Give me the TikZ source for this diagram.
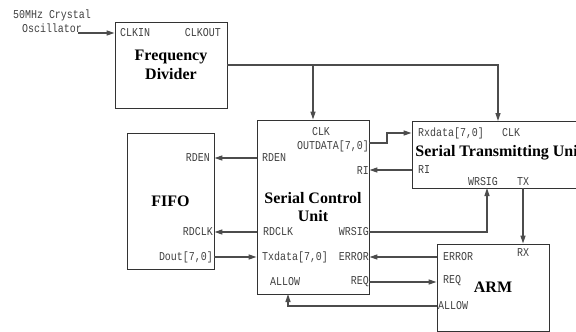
\documentclass[tikz,border=0pt]{standalone}
\usepackage{fontspec}
\setmainfont{Liberation Serif}
\newfontfamily\portfont[FakeStretch=0.83]{Liberation Mono}
\usetikzlibrary{arrows.meta}

\begin{document}
\begin{tikzpicture}[x=1pt,y=-1pt,
  block/.style={draw=black!80,line width=0.9pt,inner sep=0pt,align=center,font=\fontsize{16}{18.5}\selectfont\bfseries},
  port/.style={inner sep=0pt,text=black!75,font=\portfont\fontsize{12}{14}\selectfont},
  arr/.style={draw=black!70,line width=1.2pt,-{Triangle[length=8pt,width=5pt]}}]
\useasboundingbox (0,0) rectangle (576,332);

% blocks
\node[block,minimum width=112,minimum height=86] (fd) at (171,65) {Frequency\\Divider};
\node[block,minimum width=112,minimum height=174] (scu) at (313,207) {Serial Control\\Unit};
\node[block,minimum width=180,minimum height=67] (stu) at (502,154.5) {};
\node[block,draw=none,anchor=west] (stutitle) at (415,153) {Serial Transmitting Unit};
\node[block,minimum width=87,minimum height=136] (fifo) at (170.5,201) {FIFO};
\node[block,minimum width=112,minimum height=87] (arm) at (493,287.5) {ARM};

% ports
\node[port,align=center] (osctext) at (52,21) {50MHz Crystal\\Oscillator};
\node[port,anchor=west] (fdclkin) at (120,33) {CLKIN};
\node[port,anchor=east] (fdclkout) at (221,33) {CLKOUT};

\node[port] (scuclk) at (321,132) {CLK};
\node[port,anchor=east] (scuout) at (369,146) {OUTDATA[7,0]};
\node[port,anchor=east] (scuri) at (369,171) {RI};
\node[port,anchor=west] (scurden) at (262,158) {RDEN};
\node[port,anchor=west] (scurdclk) at (263,232) {RDCLK};
\node[port,anchor=west] (scutx) at (262,257) {Txdata[7,0]};
\node[port,anchor=west] (scuallow) at (270,282) {ALLOW};
\node[port,anchor=east] (scuwrsig) at (369,232) {WRSIG};
\node[port,anchor=east] (scuerror) at (369,257) {ERROR};
\node[port,anchor=east] (scureq) at (369,282) {REQ};

\node[port,anchor=east] (fiforden) at (210,158) {RDEN};
\node[port,anchor=east] (fifordclk) at (213,232) {RDCLK};
\node[port,anchor=east] (fifodout) at (213,257) {Dout[7,0]};

\node[port,anchor=west] (sturx) at (418,133) {Rxdata[7,0]};
\node[port,anchor=west] (stuclk) at (502,133) {CLK};
\node[port,anchor=west] (sturi) at (418,170) {RI};
\node[port] (stuwrsig) at (483,182) {WRSIG};
\node[port] (stutx) at (523,182) {TX};

\node[port,anchor=west] (armerror) at (443,257) {ERROR};
\node[port,anchor=west] (armreq) at (443,281) {REQ};
\node[port,anchor=west] (armallow) at (438,306) {ALLOW};
\node[port] (armrx) at (523,253) {RX};

\coordinate (osc) at (78,33);
\coordinate (outpin) at (369,143);
\coordinate (stuin) at (498,121);
\coordinate (wrin) at (487,188);
\coordinate (allowin) at (288,294);

% connectors
\draw[arr] (osc) -- (osc -| fd.west);
\draw[arr] (fd.east) -| (stuin);
\draw[arr] (fd.east -| scu.north) -- (scu.north);
\draw[arr] (outpin) -- ++(18,0) |- (stu.west |- sturx);
\draw[arr] (stu.west |- sturi) -- (scu.east |- sturi);
\draw[arr] (scu.east |- scuwrsig) -| (wrin);
\draw[arr] (stutx |- stu.south) -- (stutx |- arm.north);
\draw[arr] (scu.west |- scurden) -- (fifo.east |- scurden);
\draw[arr] (scu.west |- scurdclk) -- (fifo.east |- scurdclk);
\draw[arr] (fifo.east |- fifodout) -- (scu.west |- fifodout);
\draw[arr] (arm.west |- armerror) -- (scu.east |- armerror);
\draw[arr] (scu.east |- scureq) -- (arm.west |- scureq);
\draw[arr] (arm.west |- armallow) -| (allowin);
\end{tikzpicture}
\end{document}
